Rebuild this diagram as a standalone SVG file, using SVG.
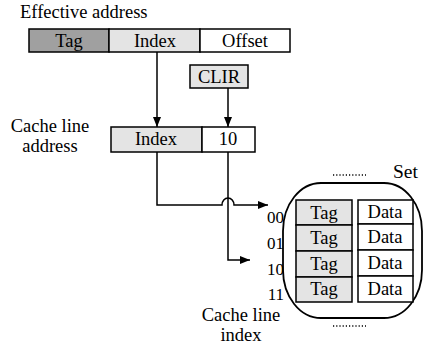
<svg xmlns="http://www.w3.org/2000/svg" width="425" height="344" viewBox="0 0 425 344" font-family="'Liberation Serif', 'Times New Roman', serif" font-size="18.5">
  <defs>
    <marker id="arrow" viewBox="0 0 10 8" refX="10" refY="4" markerWidth="10" markerHeight="8" markerUnits="userSpaceOnUse" orient="auto">
      <path d="M0,0 L10,4 L0,8 Z" fill="#000"/>
    </marker>
    <style>
      .c { text-anchor: middle; }
      .idx { font-size: 17px; text-anchor: end; }
      .box { stroke: #000; stroke-width: 1.5; }
      .dark { fill: #a0a0a0; }
      .light { fill: #e4e4e4; }
      .white { fill: #fff; }
      .wire { fill: none; stroke: #000; stroke-width: 1.5; }
      .dots { stroke: #000; stroke-width: 1.5; stroke-dasharray: 1.2 2; }
    </style>
  </defs>

  <!-- Effective address -->
  <g id="effective-address">
    <text x="20" y="18">Effective address</text>
    <rect class="box dark" x="29" y="29" width="80" height="23"/>
    <rect class="box light" x="109" y="29" width="91" height="23"/>
    <rect class="box white" x="200" y="29" width="90" height="23"/>
    <text class="c" x="69" y="47">Tag</text>
    <text class="c" x="155" y="47">Index</text>
    <text class="c" x="245" y="47">Offset</text>
  </g>

  <!-- CLIR register -->
  <g id="clir">
    <rect class="box light" x="190" y="65" width="58" height="23"/>
    <text class="c" x="219" y="83">CLIR</text>
  </g>

  <!-- Cache line address -->
  <g id="cache-line-address">
    <text class="c" x="50" y="132">Cache line</text>
    <text class="c" x="50" y="152">address</text>
    <rect class="box light" x="111" y="127" width="91" height="25"/>
    <rect class="box white" x="202" y="127" width="53" height="25"/>
    <text class="c" x="156" y="145">Index</text>
    <text class="c" x="228" y="145">10</text>
  </g>

  <!-- Set -->
  <g id="set">
    <line class="dots" x1="333" y1="175" x2="366" y2="175"/>
    <text x="393" y="178" font-size="19.5">Set</text>
    <rect x="283" y="183" width="139" height="135" rx="38" ry="48" fill="none" stroke="#000" stroke-width="1.8"/>
    <rect class="box light" x="296" y="200" width="56" height="25"/>
    <rect class="box light" x="296" y="225" width="56" height="26"/>
    <rect class="box light" x="296" y="251" width="56" height="26"/>
    <rect class="box light" x="296" y="277" width="56" height="25"/>
    <rect class="box white" x="358" y="200" width="55" height="24"/>
    <rect class="box white" x="358" y="224" width="55" height="26"/>
    <rect class="box white" x="358" y="250" width="55" height="26"/>
    <rect class="box white" x="358" y="276" width="55" height="26"/>
    <text class="c" x="324" y="219">Tag</text>
    <text class="c" x="324" y="244">Tag</text>
    <text class="c" x="324" y="270">Tag</text>
    <text class="c" x="324" y="295">Tag</text>
    <text class="c" x="385" y="218">Data</text>
    <text class="c" x="385" y="243">Data</text>
    <text class="c" x="385" y="269">Data</text>
    <text class="c" x="385" y="295">Data</text>
    <line class="dots" x1="333" y1="326" x2="366" y2="326"/>
  </g>

  <!-- Cache line index labels -->
  <g id="cache-line-index">
    <text class="idx" x="284" y="223">00</text>
    <text class="idx" x="284" y="249">01</text>
    <text class="idx" x="284" y="275">10</text>
    <text class="idx" x="284" y="300">11</text>
    <text class="c" x="241" y="321">Cache line</text>
    <text class="c" x="241" y="341">index</text>
  </g>

  <!-- Connectors -->
  <g id="connectors">
    <path class="wire" d="M157,52 V127" marker-end="url(#arrow)"/>
    <path class="wire" d="M228,88 V127" marker-end="url(#arrow)"/>
    <path class="wire" d="M157,152 V205 H222 A6,7 0 0 1 234,205 H268" marker-end="url(#arrow)"/>
    <path class="wire" d="M228,152 V260 H250" marker-end="url(#arrow)"/>
  </g>
</svg>
